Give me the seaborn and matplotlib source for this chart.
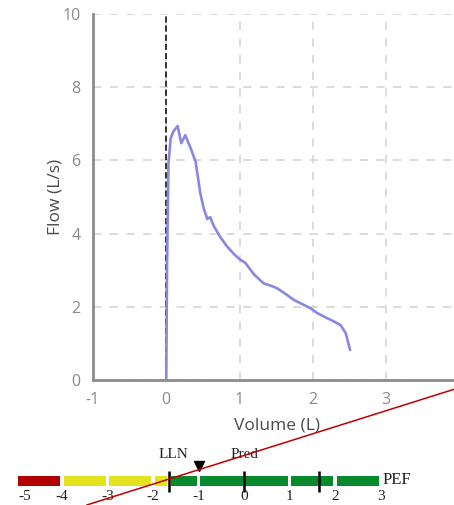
import matplotlib
matplotlib.use("Agg")
import matplotlib.pyplot as plt
from matplotlib.lines import Line2D
import seaborn as sns
import pandas as pd

# ---------------- data ----------------
volume = [0, 0.01, 0.03, 0.06, 0.10, 0.155, 0.205, 0.26, 0.33, 0.40, 0.465, 0.51,
          0.56, 0.60, 0.65, 0.74, 0.83, 0.92, 1.0, 1.08, 1.2, 1.33, 1.45, 1.52,
          1.63, 1.74, 1.86, 1.97, 2.06, 2.155, 2.27, 2.38, 2.45, 2.51]
flow = [0, 3.0, 5.9, 6.6, 6.8, 6.94, 6.47, 6.69, 6.35, 5.97, 5.1, 4.7,
        4.40, 4.45, 4.2, 3.9, 3.65, 3.45, 3.3, 3.2, 2.88, 2.64, 2.56, 2.50,
        2.35, 2.19, 2.07, 1.96, 1.83, 1.73, 1.62, 1.50, 1.28, 0.82]
x_ticks = [-1, 0, 1, 2, 3]
y_ticks = [0, 2, 4, 6, 8, 10]

# z-score gauge
seg_start = [-5, -4, -3, -2, -1.645, -1, 1, 2]
seg_end = [-4, -3, -2, -1.645, -1, 1, 2, 3]
seg_zone = ["red", "yellow", "yellow", "yellow", "green", "green", "green", "green"]
z_ticks = [-5, -4, -3, -2, -1, 0, 1, 2, 3]
lln_z = -1.645
pred_z = 0
uln_z = 1.645
pef_z = -0.98
gauge_name = "PEF"

zone_colors = {"red": "#b00000", "yellow": "#e2e21e", "green": "#088a2c"}

# ---------------- figure ----------------
sns.set_style("white")
plt.rcParams["font.family"] = ["Open Sans", "DejaVu Sans"]
plt.rcParams["axes.unicode_minus"] = False
W, H = 454, 505
fig = plt.figure(figsize=(W / 100, H / 100), dpi=100)

ax = fig.add_axes([93 / W, (H - 380) / H, 361 / W, 366 / H])
df = pd.DataFrame({"Volume": volume, "Flow": flow})
sns.lineplot(data=df, x="Volume", y="Flow", sort=False, ax=ax,
             color="#8888e2", linewidth=1.9, zorder=4)

ax.set_xlim(-1, -1 + 361 / 73.25)
ax.set_ylim(0, 10)
ax.set_xticks(x_ticks)
ax.set_yticks(y_ticks)
ax.grid(True, color="#d6d6d6", linestyle=(0, (5, 5)), linewidth=1.2)
ax.axvline(0, color="black", linestyle=(0, (4, 2)), linewidth=1.1, zorder=3)
for s in ["top", "right"]:
    ax.spines[s].set_visible(False)
for s in ["left", "bottom"]:
    ax.spines[s].set_color("#8c8c8c")
    ax.spines[s].set_linewidth(2.0)
    ax.spines[s].set_zorder(5)
ax.tick_params(axis="both", direction="out", length=6, width=1.5,
               color="#8c8c8c", labelcolor="#8a8a8a", labelsize=11.5, pad=3)
ax.set_xlabel("Volume (L)", fontsize=12.5, color="#4a4a4a")
ax.set_ylabel("Flow (L/s)", fontsize=12.5, color="#4a4a4a")
ax.xaxis.set_label_coords((277 - 93) / 361, (380 - 418) / 366)
ax.yaxis.set_label_coords((64 - 93) / 361, 0.5)

# ---------------- gauge ----------------
gx = fig.add_axes([0, 0, 1, 55 / H])
px_per_z = 45.5
z0_px = 244
gx.set_xlim(-z0_px / px_per_z, (W - z0_px) / px_per_z)
gx.set_ylim(0, 55)
gx.axis("off")
gap = 0.04
for a, b, zone in zip(seg_start, seg_end, seg_zone):
    gx.barh(24, (b - a) - 2 * gap, left=a + gap, height=10,
            color=zone_colors[zone], linewidth=0)
for z in [lln_z, pred_z, uln_z]:
    gx.plot([z, z], [13, 34], color="black", linewidth=1.8, solid_capstyle="butt")
gx.plot([pef_z], [39], marker="v", color="black", markersize=7, linestyle="none")
serif = ["Liberation Serif", "DejaVu Serif"]
gx.text(lln_z + 0.09, 50, "LLN", ha="center", va="center", fontsize=11,
        family=serif, color="#222222")
gx.text(pred_z, 50, "Pred", ha="center", va="center", fontsize=11,
        family=serif, color="#222222")
gx.text(seg_end[-1] + 0.05, 25, gauge_name, ha="left", va="center", fontsize=12,
        family=serif, color="#222222")
for z in z_ticks:
    if z == z_ticks[0]:
        gx.text(z + 0.05, 8, str(z), ha="left", va="center", fontsize=11,
                family=serif, color="#222222")
    else:
        gx.text(z, 8, str(z), ha="center", va="center", fontsize=11,
                family=serif, color="#222222")

# red diagonal overlay line
fig.add_artist(Line2D([86.7 / W, 1.0], [0, (H - 389.3) / H],
                      transform=fig.transFigure, color="#c00000", linewidth=1.1))

fig.savefig("out.png", dpi=100)
